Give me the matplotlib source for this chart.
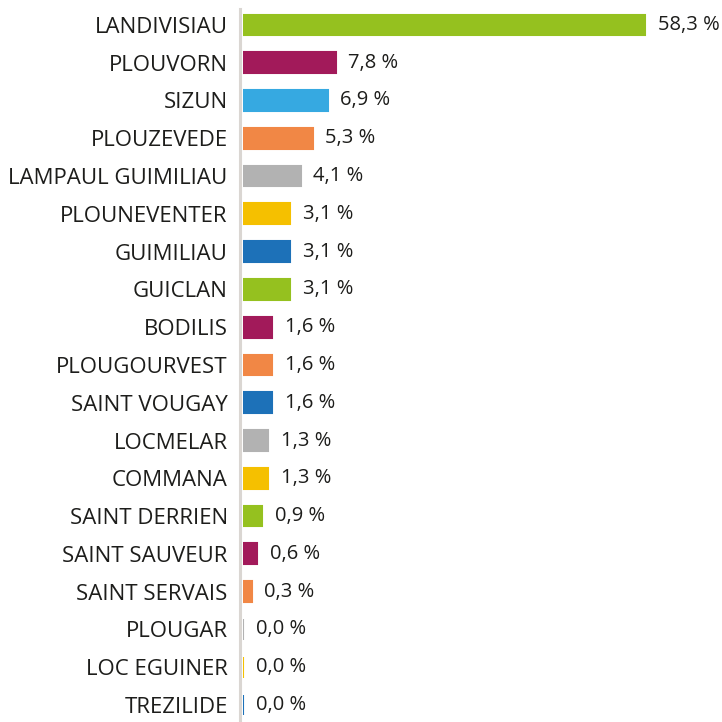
import matplotlib
matplotlib.use("Agg")
import numpy as np
import matplotlib.pyplot as plt

communes = ["LANDIVISIAU", "PLOUVORN", "SIZUN", "PLOUZEVEDE", "LAMPAUL GUIMILIAU",
            "PLOUNEVENTER", "GUIMILIAU", "GUICLAN", "BODILIS", "PLOUGOURVEST",
            "SAINT VOUGAY", "LOCMELAR", "COMMANA", "SAINT DERRIEN", "SAINT SAUVEUR",
            "SAINT SERVAIS", "PLOUGAR", "LOC EGUINER", "TREZILIDE"]
parts = [58.3, 7.8, 6.9, 5.3, 4.1, 3.1, 3.1, 3.1, 1.6, 1.6, 1.6, 1.3, 1.3, 0.9, 0.6, 0.3, 0.0, 0.0, 0.0]
colors = ["#95C11F", "#A21A5A", "#36A9E1", "#F18745", "#B2B2B2", "#F5C000", "#1D71B8",
          "#95C11F", "#A21A5A", "#F18745", "#1D71B8", "#B2B2B2", "#F5C000",
          "#95C11F", "#A21A5A", "#F18745", "#B2B2B2", "#F5C000", "#1D71B8"]

plt.rcParams['font.family'] = ['Open Sans', 'DejaVu Sans']
txt = "#1D1D1B"

fig = plt.figure(figsize=(7.22, 7.22), dpi=100)
ax = fig.add_axes([243 / 722, 0.0, 1 - 243 / 722, 0.9875])

# spine position first, it resets the tick label styles
for s in ["top", "right", "bottom"]:
    ax.spines[s].set_visible(False)
ax.spines["left"].set_position(("outward", 2))
ax.spines["left"].set_color("#DAD6D2")
ax.spines["left"].set_linewidth(2.2)

# the original widths grow slower than linear, a power scale fits them
p = 0.73
ax.set_xscale('function', functions=(lambda x: np.power(np.clip(x, 0, None), p),
                                     lambda x: np.power(np.clip(x, 0, None), 1 / p)))

y = np.arange(len(communes))
ax.barh(y, parts, height=0.55, color=colors, edgecolor=colors, linewidth=1.5)

for yi, v in zip(y, parts):
    ax.annotate(f"{v:.1f} %".replace(".", ","), (v, yi), xytext=(9, 0),
                textcoords="offset points", va="center", ha="left",
                fontsize=14.5, color=txt)

ax.set_xlim(0, 74)
ax.set_ylim(18.45, -0.42)
ax.set_yticks(y)
ax.set_yticklabels(communes, fontsize=16, color=txt)
ax.tick_params(axis='y', length=0, pad=9)
ax.set_xticks([])

fig.savefig("out.png", dpi=100)
